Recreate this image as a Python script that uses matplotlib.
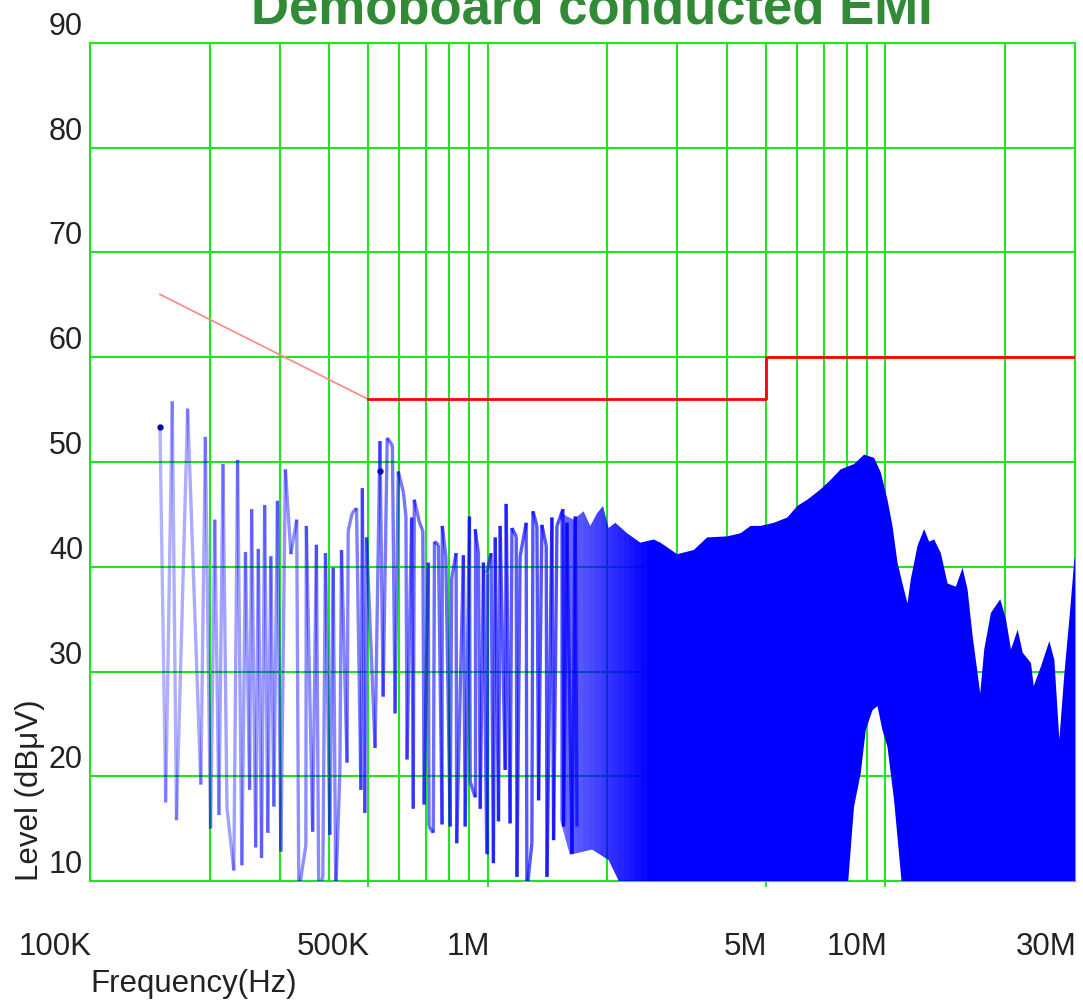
import numpy as np
import matplotlib
matplotlib.use("Agg")
import matplotlib.pyplot as plt
from matplotlib.collections import LineCollection
from matplotlib.patches import Polygon
from matplotlib.transforms import offset_copy
from matplotlib.colors import to_rgba

# ---- measured spectrum, low band: individual harmonic peaks and the dips between them (kHz, dBuV)
peak_khz = [150, 161, 176, 195, 206, 216, 235, 246, 255, 265, 275, 285, 296, 310, 320, 331,
            350, 371, 391, 409, 429, 446, 456, 468, 484, 496, 536, 559, 576, 596, 614, 623,
            644, 654, 673, 687, 709, 735, 752, 769, 785, 812, 833, 869, 900, 930, 948, 976,
            995, 1020, 1045, 1075, 1113, 1151, 1180, 1207, 1250, 1300, 1330, 1369, 1404,
            1451, 1494, 1547, 1583, 1661]
peak_dbuv = [53.2, 55.8, 55.1, 52.4, 44.5, 49.8, 50.2, 41.4, 45.5, 41.7, 45.9, 41.0, 46.3,
             49.3, 41.2, 44.5, 43.9, 42.1, 41.3, 39.9, 41.6, 43.4, 45.1, 45.6, 47.5, 42.8,
             52.0, 52.3, 51.6, 49.1, 47.1, 44.8, 44.7, 46.4, 44.3, 43.4, 40.4, 42.4, 42.1,
             43.9, 41.0, 38.9, 41.3, 41.1, 44.8, 43.6, 41.3, 40.4, 39.4, 41.3, 42.8, 43.9,
             46.0, 43.7, 42.9, 41.0, 44.2, 45.3, 43.9, 44.0, 42.0, 44.7, 43.9, 45.5, 44.2, 44.8]
valley_khz = [155, 165, 190, 201, 211, 221, 230, 241, 252, 261, 270, 280, 290, 302, 335, 349,
              363, 376, 385, 401, 415, 425, 443, 480, 491, 521, 546, 585, 627, 650, 692, 712,
              730, 768, 805, 836, 878, 904, 930, 958, 995, 1034, 1065, 1107, 1139, 1185, 1255,
              1292, 1343, 1410, 1465, 1552, 1630, 1678]
valley_dbuv = [17.5, 15.8, 19.2, 15.0, 16.3, 17.0, 11.0, 11.5, 18.7, 13.2, 12.2, 14.6, 17.1,
               12.8, 9.0, 13.4, 14.7, 9.0, 10.4, 14.4, 9.0, 20.3, 21.3, 18.7, 16.5, 22.7, 27.6,
               26.0, 21.6, 16.9, 17.3, 15.2, 14.6, 15.4, 15.2, 13.6, 15.2, 19.5, 18.0, 16.9,
               12.6, 11.7, 15.7, 20.6, 15.5, 10.4, 9.0, 13.6, 17.7, 10.4, 13.9, 15.2, 12.6, 15.2]

# ---- dense band: upper envelope and lower envelope of the trace (kHz, dBuV)
env_khz = [1523, 1583, 1645, 1743, 1812, 1884, 1950, 2015, 2095, 2242, 2422, 2617, 2720, 2997,
           3300, 3566, 4005, 4326, 4584, 4857, 5247, 5671, 6009, 6368, 6880, 7290, 7725, 8345,
           8844, 9371, 9743, 10128, 10426, 10733, 11048, 11373, 11592, 12052, 12523, 12892,
           13271, 13797, 14343, 15051, 15647, 16107, 16581, 17070, 17329, 17736, 18438, 19460,
           20114, 20706, 21528, 22161, 23255, 23622, 24644, 25859, 26620, 27403, 28209, 29038,
           29892, 30000]
env_top = [45.3, 44.8, 44.5, 45.3, 43.9, 45.1, 45.8, 43.7, 44.2, 43.2, 42.3, 42.6, 42.3, 41.2,
           41.6, 42.8, 42.9, 43.2, 43.9, 43.9, 44.2, 44.7, 45.8, 46.4, 47.4, 48.3, 49.3, 49.8,
           50.7, 50.4, 49.0, 46.4, 43.9, 40.4, 38.4, 36.5, 38.8, 42.0, 43.6, 42.4, 42.6, 41.3,
           38.4, 38.1, 39.9, 37.8, 33.4, 29.8, 27.9, 32.1, 35.6, 36.9, 35.0, 32.1, 34.0, 31.8,
           30.8, 28.6, 30.5, 32.9, 31.1, 23.5, 29.8, 35.0, 40.7, 40.9]
floor_khz = [1523, 1610, 1830, 2015, 2200, 2422, 8031, 8345, 8676, 8931, 9285, 9558, 9839,
             10128, 10524, 11048, 30000]
floor_dbuv = [15.8, 12.5, 13.0, 12.0, 9.0, 9.0, 9.0, 17.1, 20.3, 24.4, 26.3, 26.7, 24.4,
              22.8, 17.7, 9.0, 9.0]

# ---- marker readings
marker_khz = [150, 536]
marker_dbuv = [53.3, 49.1]

# ---- CISPR 22 class B quasi-peak limit (kHz, dBuV)
limit_slope_khz = [150, 500]
limit_slope_dbuv = [66, 56]
limit_flat_khz = [500, 5000, 5000, 30000]
limit_flat_dbuv = [56, 56, 60, 60]

# ---- axes
ytick_vals = [10, 20, 30, 40, 50, 60, 70, 80, 90]
xtick_vals = [1e5, 5e5, 1e6, 5e6, 1e7, 3e7]
xtick_labels = ["100K", "500K", "1M", "5M", "10M", "30M"]
grid_freqs = [m * 10 ** e for e in (5, 6, 7) for m in range(1, 10) if m * 10 ** e <= 3e7]

GREEN = "#1ee61e"
BLUE = "#0000ff"
TXT = "#222222"
FONT = ["Liberation Sans", "DejaVu Sans"]

fig = plt.figure(figsize=(10.83, 10.02), dpi=100)
W, H = 1083, 1002
ax = fig.add_axes([90 / W, 1 - 881 / H, 985 / W, 838 / H])
ax.set_xscale("log")
ax.set_xlim(1e5, 3e7)
ax.set_ylim(10, 90)

# grid
ax.set_axisbelow(True)
ax.set_xticks([5e5, 1e6, 5e6, 1e7])
ax.set_xticks(grid_freqs, minor=True)
ax.set_yticks(ytick_vals)
ax.xaxis.set_major_formatter(plt.NullFormatter())
ax.xaxis.set_minor_formatter(plt.NullFormatter())
ax.yaxis.set_major_formatter(plt.NullFormatter())
ax.tick_params(axis="x", which="major", length=4, width=1.4, color=GREEN, direction="out")
ax.tick_params(axis="x", which="minor", length=0)
ax.tick_params(axis="y", length=0)
ax.grid(True, which="both", axis="x", color=GREEN, lw=1.5)
ax.grid(True, which="major", axis="y", color=GREEN, lw=1.5)
for s in ax.spines.values():
    s.set_color(GREEN)
    s.set_linewidth(1.5)

# low band trace as individual segments so overlapping spikes darken;
# the trace gets denser (and darker) towards higher frequencies
pts = sorted(list(zip(peak_khz, peak_dbuv)) + list(zip(valley_khz, valley_dbuv)))
xy = np.array([(f * 1e3, v) for f, v in pts])
segs = np.stack([xy[:-1], xy[1:]], axis=1)
mid = np.log10(segs[:, :, 0].mean(axis=1))
ramp = np.clip((mid - np.log10(1.5e5)) / (np.log10(1.6e6) - np.log10(1.5e5)), 0, 1)
seg_cols = [to_rgba(BLUE, 0.30 + 0.40 * r) for r in ramp]
ax.add_collection(LineCollection(segs, colors=seg_cols, linewidths=2.4, zorder=3))

# dense band as filled envelope, fading in from the low band
env_f = np.array(env_khz) * 1e3
flo_f = np.array(floor_khz) * 1e3
verts = np.column_stack([np.concatenate([env_f, flo_f[::-1]]),
                         np.concatenate([env_top, floor_dbuv[::-1]])])
clip_poly = Polygon(verts, closed=True, transform=ax.transData)
n_fade = 16
fade_edges = np.geomspace(1.52e6, 2.6e6, n_fade + 1)
fade_alpha = np.linspace(0.55, 1.0, n_fade + 1)[1:]
band_edges = list(fade_edges) + [3.2e7]
band_alpha = list(fade_alpha) + [1.0]
for x0, x1, a in zip(band_edges[:-1], band_edges[1:], band_alpha):
    span = ax.axvspan(x0, x1, color=BLUE, alpha=a, lw=0, zorder=3, antialiased=False)
    span.set_clip_path(clip_poly)

ax.plot(np.array(marker_khz) * 1e3, marker_dbuv, ls="none", marker="o", ms=3.5,
        color="#0000b0", zorder=4)

# limit line
ax.plot(np.array(limit_slope_khz) * 1e3, limit_slope_dbuv, color="#ff8c8c", lw=1.3, zorder=5)
ax.plot(np.array(limit_flat_khz) * 1e3, limit_flat_dbuv, color="#ff0000", lw=2.0, zorder=5)

# tick labels
ylab_tr = offset_copy(ax.get_yaxis_transform(), fig=fig, x=-7, y=8, units="dots")
for v in ytick_vals:
    ax.text(0, v, str(v), transform=ylab_tr, ha="right", va="baseline",
            fontsize=22, color=TXT, family=FONT, clip_on=False)
xlab_tr = offset_copy(ax.get_xaxis_transform(), fig=fig, x=2, y=-74, units="dots")
for f, lab in zip(xtick_vals, xtick_labels):
    ax.text(f, 0, lab, transform=xlab_tr, ha="right", va="baseline",
            fontsize=22.5, color=TXT, family=FONT, clip_on=False)

fig.text(90 / W, 1 - 992 / H, "Frequency(Hz)", ha="left", va="baseline",
         fontsize=22.5, color=TXT, family=FONT)
fig.text(30 / W, 1 - 881 / H, "Level (dB\u03bcV)", rotation=90, ha="center", va="bottom",
         fontsize=22.5, color=TXT, family=FONT)
fig.text(592 / W, 1 - 23 / H, "Demoboard conducted EMI", ha="center", va="baseline",
         fontsize=38, fontweight="bold", color="#318a36", family=FONT)

fig.savefig("out.png", dpi=100, facecolor="white")
